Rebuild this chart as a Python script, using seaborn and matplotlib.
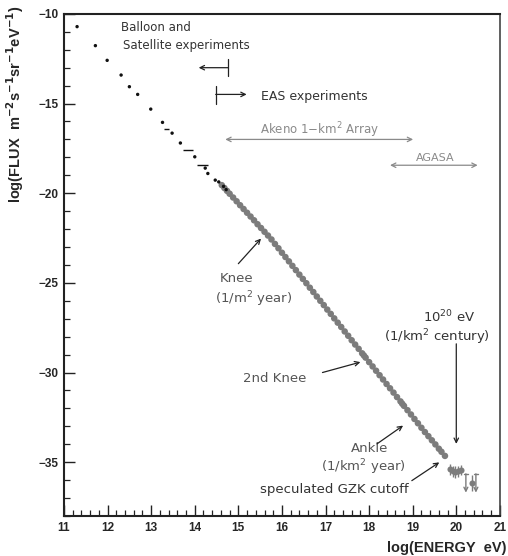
import matplotlib
matplotlib.use("Agg")
import matplotlib.pyplot as plt
import seaborn as sns
import numpy as np
from matplotlib.ticker import MultipleLocator

# ---------------- data ----------------
# Balloon / satellite points (small black dots)
bal_x = [11.30, 11.72, 11.99, 12.31, 12.50, 12.69, 12.99, 13.26, 13.48, 13.67,
         14.00, 14.24, 14.30, 14.47, 14.55, 14.66, 14.72]
bal_y = [-10.71, -11.77, -12.59, -13.41, -14.06, -14.49, -15.31, -16.05, -16.65, -17.20,
         -17.97, -18.60, -18.90, -19.27, -19.37, -19.62, -19.80]
# short horizontal bins (energy ranges)
dash_x = [13.35, 13.84, 14.18]
dash_y = [-16.40, -17.60, -18.44]
dash_w = [0.06, 0.11, 0.13]

# EAS points (grey dots)
main_x = [14.62, 14.68, 14.74, 14.80, 14.88, 14.96, 15.04, 15.12, 15.20, 15.28,
          15.36, 15.44, 15.52, 15.60, 15.68, 15.76, 15.84, 15.92, 16.00, 16.08,
          16.16, 16.24, 16.32, 16.40, 16.48, 16.56, 16.64, 16.72, 16.80, 16.88,
          16.96, 17.04, 17.12, 17.20, 17.28, 17.36, 17.44, 17.52, 17.60, 17.68,
          17.76, 17.84, 17.88, 17.92, 18.00, 18.08, 18.16, 18.24, 18.32, 18.40,
          18.48, 18.56, 18.64, 18.72, 18.76, 18.80, 18.88, 18.96, 19.04, 19.12,
          19.20, 19.28, 19.36, 19.44, 19.52, 19.60, 19.66, 19.74]
main_y = [-19.55, -19.71, -19.87, -20.03, -20.24, -20.45, -20.67, -20.88, -21.09, -21.30,
          -21.51, -21.73, -21.94, -22.15, -22.36, -22.58, -22.83, -23.07, -23.32, -23.56,
          -23.80, -24.05, -24.29, -24.54, -24.78, -25.02, -25.27, -25.51, -25.76, -26.00,
          -26.24, -26.49, -26.73, -26.98, -27.22, -27.46, -27.71, -27.95, -28.20, -28.44,
          -28.68, -28.93, -29.05, -29.17, -29.42, -29.66, -29.90, -30.15, -30.39, -30.64,
          -30.88, -31.12, -31.37, -31.61, -31.74, -31.86, -32.10, -32.34, -32.59, -32.83,
          -33.08, -33.32, -33.55, -33.78, -34.01, -34.25, -34.42, -34.65]

# highest-energy points with error bars
gzk_x = [19.85, 19.92, 19.98, 20.04, 20.10, 20.35]
gzk_y = [-35.40, -35.50, -35.55, -35.52, -35.45, -36.18]
gzk_e = [0.30, 0.30, 0.32, 0.30, 0.28, 0.45]
# upper limits
ul_x = [20.22, 20.45]
ul_top = [-35.65, -35.65]
ul_bot = [-36.70, -36.70]

x_ticks = [11, 12, 13, 14, 15, 16, 17, 18, 19, 20, 21]
y_ticks = [-35, -30, -25, -20, -15, -10]

# ---------------- figure ----------------
sns.set_theme(style="ticks")
plt.rcParams['font.family'] = ['DejaVu Sans']

fig = plt.figure(figsize=(5.08, 5.56), dpi=100)
ax = fig.add_axes([0.126, 0.072, 0.858, 0.903])

grey = '#7c7c7c'
sns.scatterplot(x=main_x, y=main_y, ax=ax, color=grey, s=22, edgecolor='none', linewidth=0, zorder=3)
sns.scatterplot(x=bal_x, y=bal_y, ax=ax, color='#111111', s=6, edgecolor='none', linewidth=0, zorder=4)
ax.errorbar(dash_x, dash_y, xerr=dash_w, fmt='none', ecolor='#111111', elinewidth=1.0, capsize=0, zorder=4)
ax.errorbar(gzk_x, gzk_y, yerr=gzk_e, fmt='o', color=grey, ms=4.4, mec='none',
            ecolor=grey, elinewidth=1.0, capsize=0, zorder=3)
for xx, t, b in zip(ul_x, ul_top, ul_bot):
    ax.annotate('', xy=(xx, b), xytext=(xx, t),
                arrowprops=dict(arrowstyle='->', color=grey, lw=1.0, shrinkA=0, shrinkB=0,
                                mutation_scale=7))
    ax.plot([xx - 0.04, xx + 0.04], [t, t], color=grey, lw=1.0)

ax.set_xlim(11, 21)
ax.set_ylim(-38, -10)
ax.set_xticks(x_ticks)
ax.set_yticks(y_ticks)
ax.xaxis.set_minor_locator(MultipleLocator(0.2))
ax.yaxis.set_minor_locator(MultipleLocator(1))
ax.tick_params(which='major', direction='in', length=8, width=1.0, color='#222222',
               labelsize=8.5, pad=4)
ax.tick_params(which='minor', direction='in', length=4, width=0.9, color='#222222')
ax.tick_params(axis='x', which='both', top=False)
ax.tick_params(axis='y', which='both', right=False)
for lbl in ax.get_xticklabels() + ax.get_yticklabels():
    lbl.set_fontweight('bold')
    lbl.set_family(['Liberation Sans', 'DejaVu Sans'])
for side in ['left', 'bottom', 'top']:
    ax.spines[side].set_color('#222222')
    ax.spines[side].set_linewidth(1.5)
ax.spines['right'].set_color('#444444')
ax.spines['right'].set_linewidth(1.2)

ax.set_ylabel(r'log(FLUX  m$^{\mathbf{-2}}$s$^{\mathbf{-1}}$sr$^{\mathbf{-1}}$eV$^{\mathbf{-1}}$)',
              fontsize=10.5, fontweight='bold', family=['Liberation Sans', 'DejaVu Sans'])
ax.yaxis.set_label_coords(-0.088, 0.82)
fig.text(0.997, 1 - 548 / 556, 'log(ENERGY  eV)', ha='right', va='center',
         fontsize=10.5, fontweight='bold', family=['Liberation Sans', 'DejaVu Sans'])

# ---------------- annotations ----------------
tc = '#333333'
lc = '#8a8a8a'
ax.text(12.31, -10.78, 'Balloon and', fontsize=8.5, color=tc, va='center', ha='left')
ax.text(12.36, -11.77, 'Satellite experiments', fontsize=8.5, color=tc, va='center', ha='left')
# Balloon arrow (left)
ax.annotate('', xy=(14.09, -13.0), xytext=(14.77, -13.0),
            arrowprops=dict(arrowstyle='->', color='#222222', lw=0.9, shrinkA=0, shrinkB=0, mutation_scale=8))
ax.plot([14.77, 14.77], [-12.5, -13.45], color='#222222', lw=0.9)
# EAS arrow (right)
ax.annotate('', xy=(15.19, -14.49), xytext=(14.48, -14.49),
            arrowprops=dict(arrowstyle='->', color='#222222', lw=0.9, shrinkA=0, shrinkB=0, mutation_scale=8))
ax.plot([14.48, 14.48], [-14.0, -15.0], color='#222222', lw=0.9)
ax.text(15.52, -14.62, 'EAS experiments', fontsize=9, color=tc, va='center', ha='left')

# Akeno
ax.annotate('', xy=(14.70, -17.0), xytext=(19.01, -17.0),
            arrowprops=dict(arrowstyle='<->', color=lc, lw=0.9, shrinkA=0, shrinkB=0, mutation_scale=8))
ax.text(16.85, -16.5, 'Akeno 1$-$km$^2$ Array', fontsize=8.5, color=lc, va='center', ha='center')
# AGASA
ax.annotate('', xy=(18.48, -18.44), xytext=(20.49, -18.44),
            arrowprops=dict(arrowstyle='<->', color=lc, lw=0.9, shrinkA=0, shrinkB=0, mutation_scale=8))
ax.text(19.51, -18.05, 'AGASA', fontsize=8, color=lc, va='center', ha='center')

# Knee
ax.text(14.58, -24.77, 'Knee', fontsize=9.5, color='#555555', va='center', ha='left')
ax.text(14.47, -25.89, '(1/m$^2$ year)', fontsize=9.5, color='#555555', va='center', ha='left')
ax.annotate('', xy=(15.52, -22.53), xytext=(15.0, -23.93),
            arrowprops=dict(arrowstyle='->', color='#222222', lw=0.9, shrinkA=0, shrinkB=0, mutation_scale=8))
# 2nd knee
ax.text(15.11, -30.33, '2nd Knee', fontsize=9.5, color='#555555', va='center', ha='left')
ax.annotate('', xy=(17.80, -29.42), xytext=(16.93, -30.0),
            arrowprops=dict(arrowstyle='->', color='#222222', lw=0.9, shrinkA=0, shrinkB=0, mutation_scale=8))
# Ankle
ax.text(18.0, -34.26, 'Ankle', fontsize=9.5, color='#555555', va='center', ha='center')
ax.text(17.88, -35.28, '(1/km$^2$ year)', fontsize=9.5, color='#555555', va='center', ha='center')
ax.annotate('', xy=(18.78, -32.96), xytext=(18.18, -33.98),
            arrowprops=dict(arrowstyle='->', color='#222222', lw=0.9, shrinkA=0, shrinkB=0, mutation_scale=8))
# GZK
ax.text(15.49, -36.55, 'speculated GZK cutoff', fontsize=9.5, color='#333333', va='center', ha='left')
ax.annotate('', xy=(19.61, -35.01), xytext=(18.98, -36.03),
            arrowprops=dict(arrowstyle='->', color='#222222', lw=0.9, shrinkA=0, shrinkB=0, mutation_scale=8))
# 10^20 eV
ax.text(19.84, -26.91, '10$^{20}$ eV', fontsize=9.5, color='#333333', va='center', ha='center')
ax.text(19.56, -28.03, '(1/km$^2$ century)', fontsize=9.5, color='#333333', va='center', ha='center')
ax.annotate('', xy=(20.0, -33.98), xytext=(20.0, -28.4),
            arrowprops=dict(arrowstyle='->', color='#222222', lw=0.9, shrinkA=0, shrinkB=0, mutation_scale=8))

fig.savefig('out.png', dpi=100)
